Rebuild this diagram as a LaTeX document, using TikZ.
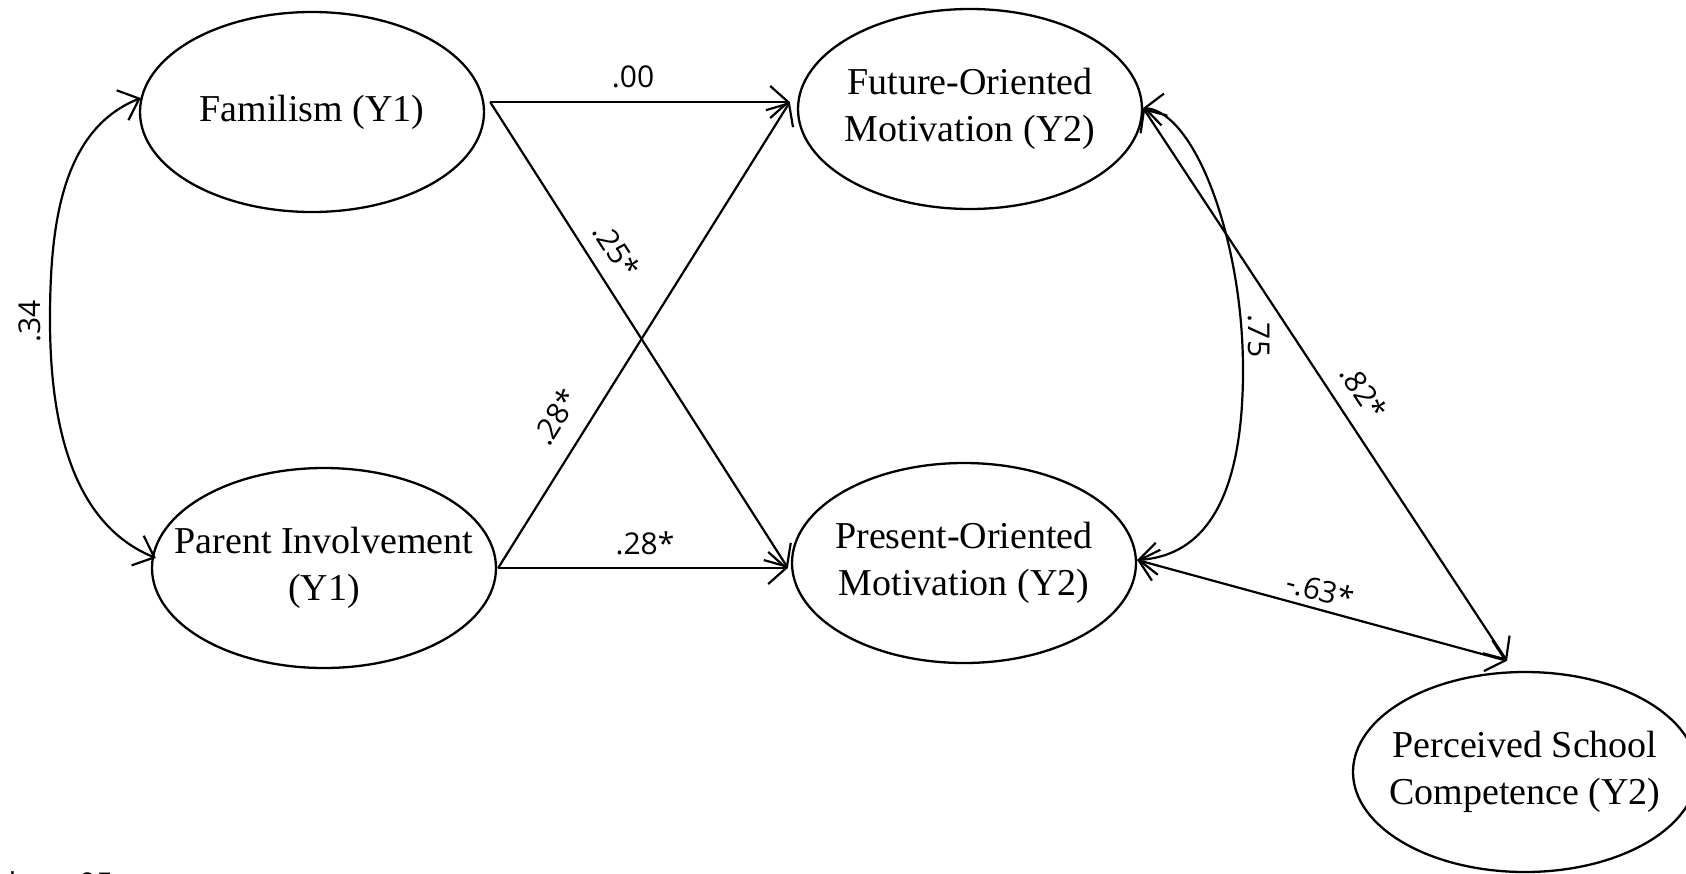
\documentclass[tikz,border=0pt]{standalone}
\usepackage{fontspec}
\setmainfont{Liberation Serif}
\newfontfamily\labfont{Open Sans}
\usetikzlibrary{shapes.geometric,arrows.meta,calc}
\begin{document}
\begin{tikzpicture}[x=0.5pt,y=-0.5pt,
  latent/.style={ellipse,draw,line width=1.15pt,minimum width=172pt,minimum height=100pt,inner xsep=-30pt,inner ysep=0pt,align=center,font=\fontsize{19}{23.5}\selectfont},
  dirpath/.style={line width=1.1pt,-{Straight Barb[length=9pt,width=16pt]}},
  covpath/.style={line width=1.1pt,{Straight Barb[length=9pt,width=16pt]}-{Straight Barb[length=9pt,width=16pt]}},
  coef/.style={font=\labfont\fontsize{15}{17}\selectfont,inner sep=0pt}]
\useasboundingbox (0,0) rectangle (1686,873);
\clip (0,0) rectangle (1686,873);

% latent variables
\node[latent] (fam) at (312,112) {Familism (Y1)};
\node[latent] (par) at (324,568) {Parent Involvement\\(Y1)};
\node[latent] (fut) at (970,109) {Future-Oriented\\Motivation (Y2)};
\node[latent] (pre) at (964,563) {Present-Oriented\\Motivation (Y2)};
\node[latent] (psc) at (1525,772) {Perceived School\\Competence (Y2)};

% anchor points of connectors
\coordinate (famout) at ($(fam.east)+(5,-10)$);
\coordinate (parout) at ($(par.east)+(1,0)$);
\coordinate (futin) at ($(fut.west)+(-7,-7)$);
\coordinate (prein) at ($(pre.west)+(-3,5)$);
\coordinate (futr) at ($(fut.east)+(0,-1)$);
\coordinate (prer) at ($(pre.east)+(0,-3)$);
\coordinate (pscin) at ($(psc.north)+(-18,-10)$);
\coordinate (faml) at ($(fam.west)+(2,-14)$);
\coordinate (parl) at ($(par.west)+(5,-10)$);

% directed paths
\draw[dirpath] (famout) -- (futin);
\draw[dirpath] (famout) -- (prein);
\draw[dirpath] (parout) -- (futin);
\draw[dirpath] (parout) -- (prein);

% covariances
\draw[covpath] (faml) .. controls (60,130) and (50,230) .. (50,320)
                      .. controls (50,430) and (75,525) .. (parl);
\draw[covpath] (futr) .. controls (1195,112) and (1243,240) .. (1243,370)
                      .. controls (1243,480) and (1215,555) .. (prer);
\draw[covpath] (futr) -- (pscin);
\draw[covpath] (prer) -- (pscin);

% coefficients
\node[coef] (c00) at (633,77) {.00};
\node[coef,rotate=-57.2] (c25) at (617,250) {.25*};
\node[coef,rotate=58.2] (c28a) at (555,417) {.28*};
\node[coef] (c28b) at (645,543) {.28*};
\node[coef,rotate=90] (c34) at (30,321) {.34};
\node[coef,rotate=-90] (c75) at (1259,336) {.75};
\node[coef,rotate=-56.7] (c82) at (1364,392) {.82*};
\node[coef,rotate=-15.4] (c63) at (1320,590) {-.63*};

% footnote (mostly cut off at the bottom edge)
\node[coef,anchor=north west] (note) at (4,871) {*\textit{p} < .05};
\end{tikzpicture}
\end{document}
